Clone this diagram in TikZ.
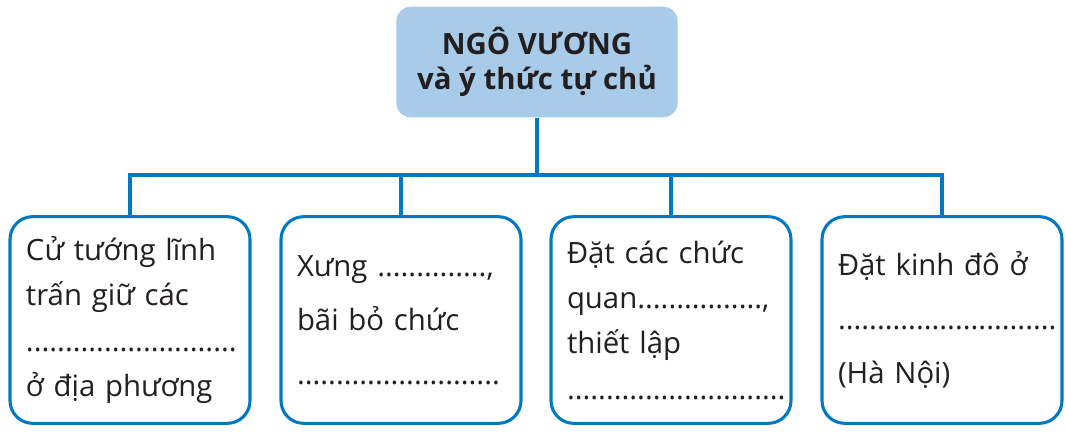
\documentclass[tikz,border=0pt]{standalone}
\usepackage{fontspec}
\setmainfont{Open Sans}
\usepackage{tikz}

\definecolor{topblue}{RGB}{167,203,233}
\definecolor{lineblue}{RGB}{0,121,193}
\definecolor{ink}{RGB}{35,31,32}

\begin{document}
\begin{tikzpicture}[x=0.75pt,y=-0.75pt]
\tikzset{top/.style={rounded corners=11pt,fill=topblue,minimum width=211pt,minimum height=83pt,align=center,text=ink,font=\bfseries\fontsize{22}{26}\selectfont},
  box/.style={draw=lineblue,line width=2.3pt,rounded corners=17pt,fill=white,minimum width=180pt,minimum height=155pt,text width=156pt,align=left,text=ink},
  tight/.style={font=\fontsize{22}{34}\selectfont},
  loose/.style={font=\fontsize{22}{40.5}\selectfont},
  link/.style={draw=lineblue,line width=2.6pt}}

\useasboundingbox (0,0) rectangle (1065,433);

\path (537,62) node[top] (ngo) {NGÔ VƯƠNG\\và ý thức tự chủ};
\coordinate (hub) at (537,175);

\path (130,320) node[box,tight] (b1) {Cử tướng lĩnh\\trấn giữ các\\...........................\\ở địa phương};
\path (401,320) node[box,loose] (b2) {Xưng ..............,\\bãi bỏ chức\\..........................};
\path (671,320) node[box,tight] (b3) {Đặt các chức\\quan................,\\thiết lập\\............................};
\path (942,320) node[box,loose] (b4) {Đặt kinh đô ở\\............................\\(Hà Nội)};

\draw[link] (ngo.south) -- (hub);
\draw[link] (hub) -| (b1.north);
\draw[link] (hub) -| (b2.north);
\draw[link] (hub) -| (b3.north);
\draw[link] (hub) -| (b4.north);

\end{tikzpicture}
\end{document}
